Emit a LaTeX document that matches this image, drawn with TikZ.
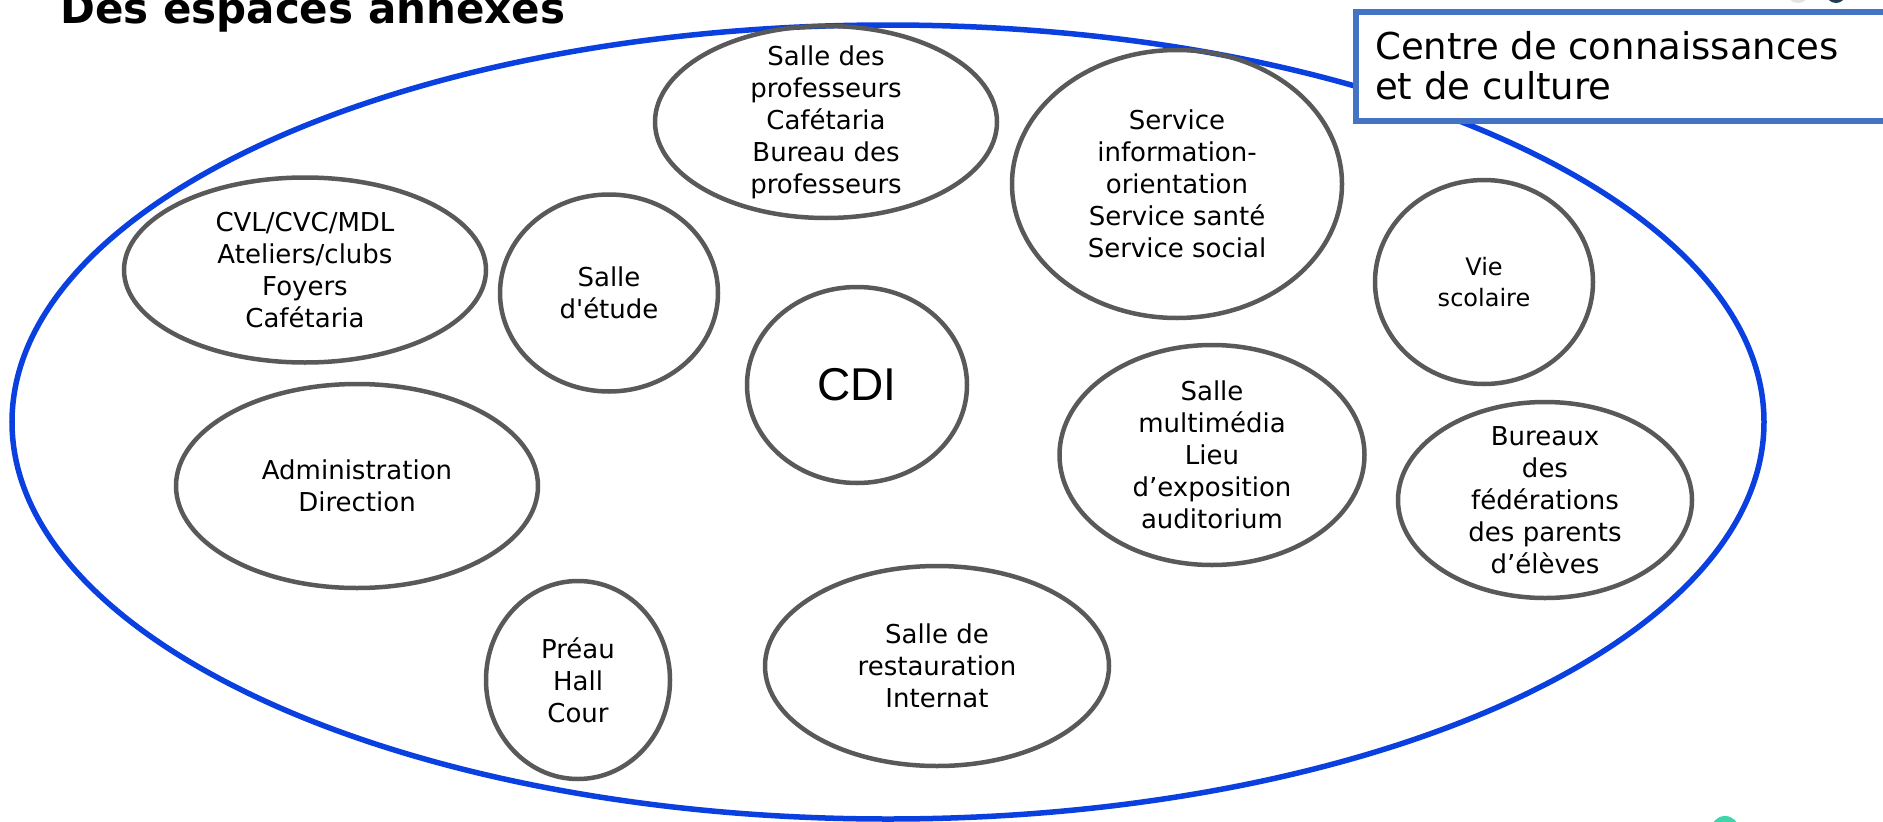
\documentclass[tikz,border=0pt]{standalone}
\usepackage{fontspec}
\setmainfont{DejaVu Sans}
\newfontfamily\arialfont{Liberation Sans}
\usetikzlibrary{shapes.geometric}
\definecolor{bigblue}{HTML}{0A3FE0}
\definecolor{boxblue}{HTML}{4472C4}
\definecolor{roomgray}{HTML}{595959}
\definecolor{tealdot}{HTML}{3DD6AC}
\definecolor{lightdot}{HTML}{E3E3E3}
\definecolor{darkdot}{HTML}{1F3B4D}
\tikzset{
  room/.style={ellipse, draw=roomgray, line width=4.5pt, inner sep=0pt},
  lab/.style={align=center, font=\fontsize{26}{32}\selectfont, inner sep=0pt},
  smalllab/.style={align=center, font=\fontsize{24}{31}\selectfont, inner sep=0pt},
  cdilab/.style={align=center, font=\arialfont\fontsize{46}{52}\selectfont, inner sep=0pt},
}
\begin{document}
\begin{tikzpicture}[x=1pt,y=-1pt]
\useasboundingbox (0,0) rectangle (1883,822);
\clip (0,0) rectangle (1883,822);

% title
\node[font=\bfseries\fontsize{42}{48}\selectfont, anchor=base west, inner sep=0pt] (title) at (60,23) {Des espaces annexes};

% outer ellipse
\node[ellipse, draw=bigblue, line width=5.5pt, minimum width=1752pt, minimum height=794pt, inner sep=0pt] (cadre) at (888,422) {};

% rooms
\node[room, minimum width=342pt, minimum height=192pt, label={[lab]center:{Salle des\\professeurs\\Cafétaria\\Bureau des\\professeurs}}] (prof) at (826,122) {};
\node[room, minimum width=330pt, minimum height=268pt, label={[lab]center:{Service\\information-\\orientation\\Service santé\\Service social}}] (service) at (1177,184) {};
\node[room, minimum width=362pt, minimum height=185pt, label={[lab]center:{CVL/CVC/MDL\\Ateliers/clubs\\Foyers\\Cafétaria}}] (cvl) at (305,270) {};
\node[room, minimum width=218pt, minimum height=197pt, label={[lab]center:{Salle\\d\textquotesingle étude}}] (etude) at (609,293) {};
\node[room, minimum width=218pt, minimum height=204pt, label={[smalllab]center:{Vie\\scolaire}}] (vie) at (1484,282) {};
\node[room, minimum width=220pt, minimum height=196pt, label={[cdilab]center:{CDI}}] (cdi) at (857,385) {};
\node[room, minimum width=305pt, minimum height=220pt, label={[lab]center:{Salle\\multimédia\\Lieu\\d’exposition\\auditorium}}] (multi) at (1212,455) {};
\node[room, minimum width=362pt, minimum height=204pt, label={[lab]center:{Administration\\Direction}}] (admin) at (357,486) {};
\node[room, minimum width=294pt, minimum height=196pt, label={[lab]center:{Bureaux\\des\\fédérations\\des parents\\d’élèves}}] (bureaux) at (1545,500) {};
\node[room, minimum width=184pt, minimum height=198pt, label={[lab]center:{Préau\\Hall\\Cour}}] (preau) at (578,680) {};
\node[room, minimum width=344pt, minimum height=200pt, label={[lab]center:{Salle de\\restauration\\Internat}}] (resto) at (937,666) {};

% top-right box
\node[draw=boxblue, fill=white, line width=6pt, minimum width=600pt, minimum height=109pt, anchor=north west, inner sep=0pt] (ccc) at (1353,9) {};
\node[anchor=north west, align=left, inner sep=0pt, font=\fontsize{37}{40}\selectfont] (ccctext) at (1375,31) {Centre de connaissances\\et de culture};

% decorative partial dots at the page edges
\fill[tealdot] (1725,830) circle (14);
\fill[lightdot] (1798,-9) circle (12);
\fill[darkdot] (1836,-7) circle (10);
\end{tikzpicture}
\end{document}
